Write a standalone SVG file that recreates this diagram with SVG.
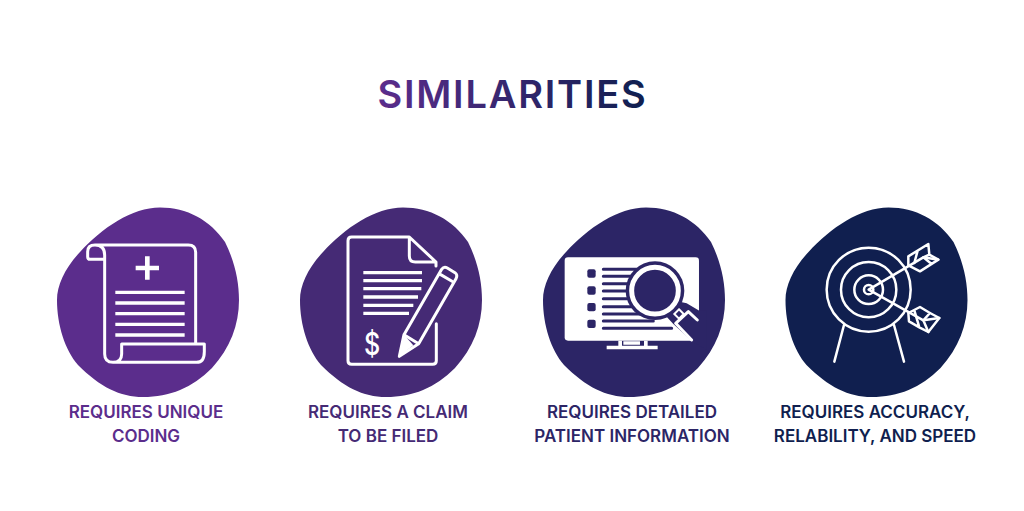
<svg xmlns="http://www.w3.org/2000/svg" width="1024" height="511" viewBox="0 0 1024 511">
<style>
.lbl{font-family:"Inter","Liberation Sans",sans-serif;font-size:17px;font-weight:600;text-anchor:middle}
.ln{fill:none;stroke:#fff;stroke-linecap:round;stroke-linejoin:round}
</style>
<defs>
<linearGradient id="tg" gradientUnits="userSpaceOnUse" x1="378" y1="0" x2="647" y2="0"><stop offset="0" stop-color="#5b2d8c"/><stop offset="1" stop-color="#0f1f4f"/></linearGradient>
<path id="blob" d="M120 7.500C147 7.500 170 20 185 42C195 62 199 82 199 100C199 125 190 148 172 168C152 188 130 197 103 197C80 197 60 187 38 165C25 150 17 125 17 100C17 85 25 68 40 52C62 28 92 7.500 120 7.500Z"/>
</defs>
<rect width="1024" height="511" fill="#fff"/>
<g id="title"><text x="512.500" y="107.500" text-anchor="middle" font-family="Inter,'Liberation Sans',sans-serif" font-size="38" font-weight="600" letter-spacing="1.800" fill="url(#tg)">SIMILARITIES</text></g>

<g id="node-coding">
<use href="#blob" x="40" y="200" fill="#5b2d8c"/>
<g transform="translate(40 200) scale(.3333)">
<path class="ln" stroke-width="9" d="M165 135H445Q467 135 467 157V432M165 135Q143 135 143 155V170Q143 178 150 178H194M165 135Q194 135 194 165V462Q194 487 219 487H470Q493 487 493 455V432H245V462Q245 487 219 487"/>
<path fill="#fff" d="M315 169h14v28h28v14h-28v28h-14v-28h-28v-14h28z"/>
<path class="ln" stroke-width="10" style="stroke-linecap:butt" d="M226 277H434M226 309H434M226 341H434M226 373H434M226 405H434"/>
</g>
<text class="lbl" fill="#5b2d8c" x="146" y="418">REQUIRES UNIQUE</text>
<text class="lbl" fill="#5b2d8c" x="146" y="442">CODING</text>
</g>

<g id="node-claim">
<use href="#blob" x="283" y="200" fill="#452a75"/>
<g transform="translate(340 232) scale(.3333)">
<path class="ln" stroke-width="9" d="M208 15H35Q24 15 24 26V386Q24 397 35 397H278Q289 397 289 386V275M208 15L288 90V102M208 15V72Q208 90 226 90H288"/>
<path class="ln" stroke-width="10" style="stroke-linecap:butt" d="M70 122H246M70 146H246M70 170H244M70 195H234M70 220H220M70 244H207"/>
<path class="ln" stroke-width="9" d="M178 373L192 308L305 112Q312 102 322 108L345 122Q354 129 348 140L236 335ZM192 308L236 335M297 125L336 148"/>
<path fill="#fff" d="M178 373L192 308L220 340Z"/>
<text transform="translate(96 368) scale(.82 1)" x="0" y="0" font-family="Inter,'Liberation Sans',sans-serif" font-size="92" font-weight="500" fill="#fff" text-anchor="middle">$</text>
</g>
<text class="lbl" fill="#452a75" x="388" y="418">REQUIRES A CLAIM</text>
<text class="lbl" fill="#452a75" x="388" y="442">TO BE FILED</text>
</g>

<g id="node-patient">
<use href="#blob" x="526" y="200" fill="#2c2566"/>
<g transform="translate(560 250) scale(.3333)">
<rect x="14" y="22" width="403" height="250" rx="10" fill="#fff"/>
<g fill="#2c2566"><rect x="82" y="58" width="25" height="25" rx="6"/><rect x="82" y="109" width="25" height="25" rx="6"/><rect x="82" y="159" width="25" height="25" rx="6"/><rect x="82" y="209" width="25" height="25" rx="6"/></g>
<path fill="none" stroke="#2c2566" stroke-width="9" stroke-linecap="round" d="M130 58H260M130 79H240M130 101H240M130 123H240M130 146H240M130 170H240M130 192H250M130 213H280M130 235H335"/>
<circle cx="285" cy="122" r="88" fill="#2c2566"/>
<path fill="#2c2566" d="M335 150L380 160L418 182H440V300L398 275L340 222L320 200Z"/>
<circle cx="285" cy="122" r="70" fill="#2c2566" stroke="#fff" stroke-width="15"/>
<path class="ln" stroke-width="9" d="M412 210L385 185L347 220L395 270"/>
<path fill="#2c2566" stroke="#fff" stroke-width="6" d="M357 178L371 192L357 206L343 192Z"/>
<path fill="#fff" d="M140 287H293V298H140Z"/>
<path fill="#fff" d="M175 272H186V288H175ZM190 274H240V284H190ZM252 272H263V288H252Z"/>
</g>
<text class="lbl" fill="#2c2566" x="632" y="418">REQUIRES DETAILED</text>
<text class="lbl" fill="#2c2566" x="632" y="442">PATIENT INFORMATION</text>
</g>

<g id="node-accuracy">
<use href="#blob" x="768.500" y="200" fill="#101f4f"/>
<g transform="translate(820 240) scale(.3333)">
<g class="ln" stroke-width="7.500">
<circle cx="146" cy="149" r="126"/><circle cx="146" cy="149" r="83"/><circle cx="146" cy="149" r="43"/><circle cx="146" cy="149" r="14"/>
<path d="M72 255L43 365M222 255L252 365"/>
<path d="M146 149L310 52L355 59M146 149L310 241L358 234M310 241L325 276"/>
<path d="M265 49L325 12L328 44L355 59L300 94L265 76ZM293 32L283 69M310 52L335 72M310 52L328 44"/>
<path d="M265 219L300 201L330 219L358 234L325 276L298 262L267 244ZM283 211L298 262M330 219L310 241"/>
</g>
</g>
<text class="lbl" fill="#101f4f" x="875" y="418">REQUIRES ACCURACY,</text>
<text class="lbl" fill="#101f4f" x="875" y="442">RELABILITY, AND SPEED</text>
</g>
<g id="connectors"/>
</svg>
